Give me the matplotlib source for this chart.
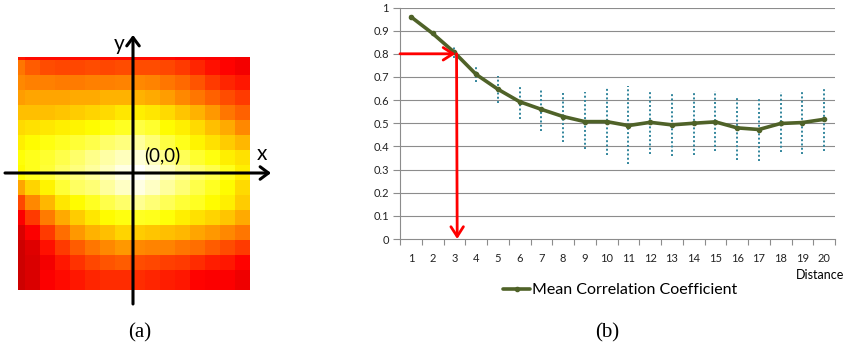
import numpy as np
import matplotlib
matplotlib.use('Agg')
import matplotlib.pyplot as plt

# ---- panel (a): correlation map, top row first, values on the 'hot' scale
heat = [
    [0.40, 0.38, 0.38, 0.38, 0.38, 0.38, 0.38, 0.38, 0.38, 0.38, 0.38, 0.37, 0.37, 0.36, 0.36, 0.35],
    [0.54, 0.50, 0.48, 0.47, 0.47, 0.48, 0.47, 0.48, 0.48, 0.48, 0.47, 0.45, 0.42, 0.39, 0.37, 0.35],
    [0.57, 0.555, 0.555, 0.55, 0.55, 0.555, 0.555, 0.56, 0.57, 0.56, 0.54, 0.52, 0.49, 0.45, 0.42, 0.40],
    [0.60, 0.61, 0.61, 0.61, 0.62, 0.62, 0.63, 0.63, 0.63, 0.62, 0.60, 0.57, 0.54, 0.51, 0.48, 0.45],
    [0.65, 0.65, 0.65, 0.66, 0.67, 0.68, 0.69, 0.71, 0.72, 0.71, 0.69, 0.66, 0.63, 0.59, 0.54, 0.51],
    [0.69, 0.70, 0.71, 0.72, 0.73, 0.74, 0.76, 0.78, 0.81, 0.79, 0.74, 0.72, 0.69, 0.65, 0.62, 0.57],
    [0.72, 0.74, 0.76, 0.78, 0.80, 0.82, 0.85, 0.87, 0.90, 0.86, 0.81, 0.77, 0.73, 0.70, 0.67, 0.64],
    [0.75, 0.77, 0.79, 0.82, 0.85, 0.88, 0.91, 0.93, 0.96, 0.93, 0.88, 0.83, 0.79, 0.76, 0.72, 0.70],
    [0.74, 0.77, 0.80, 0.84, 0.87, 0.90, 0.93, 0.97, 1.00, 0.97, 0.93, 0.89, 0.85, 0.82, 0.77, 0.72],
    [0.61, 0.68, 0.73, 0.80, 0.84, 0.86, 0.90, 0.94, 0.97, 0.94, 0.90, 0.86, 0.82, 0.78, 0.74, 0.69],
    [0.47, 0.57, 0.64, 0.71, 0.74, 0.78, 0.82, 0.85, 0.89, 0.86, 0.83, 0.80, 0.78, 0.74, 0.72, 0.67],
    [0.36, 0.45, 0.55, 0.62, 0.67, 0.71, 0.74, 0.76, 0.78, 0.77, 0.75, 0.72, 0.70, 0.68, 0.66, 0.62],
    [0.31, 0.36, 0.45, 0.53, 0.59, 0.63, 0.65, 0.68, 0.67, 0.66, 0.65, 0.64, 0.61, 0.59, 0.57, 0.54],
    [0.29, 0.32, 0.39, 0.45, 0.50, 0.54, 0.57, 0.59, 0.57, 0.56, 0.56, 0.54, 0.53, 0.50, 0.48, 0.45],
    [0.29, 0.31, 0.35, 0.40, 0.44, 0.47, 0.49, 0.50, 0.48, 0.47, 0.46, 0.45, 0.43, 0.41, 0.40, 0.37],
    [0.29, 0.31, 0.36, 0.38, 0.40, 0.42, 0.43, 0.43, 0.43, 0.42, 0.41, 0.40, 0.37, 0.36, 0.36, 0.34],
]

# ---- panel (b): mean correlation vs distance, with spread bars
distance = list(range(1, 21))
mean_corr = [0.96, 0.888, 0.806, 0.711, 0.647, 0.593, 0.56, 0.529, 0.507, 0.507,
             0.49, 0.504, 0.493, 0.50, 0.506, 0.48, 0.473, 0.499, 0.503, 0.517]
corr_low = [np.nan, 0.877, 0.78, 0.68, 0.587, 0.517, 0.468, 0.421, 0.39, 0.362,
            0.323, 0.366, 0.358, 0.362, 0.378, 0.342, 0.338, 0.374, 0.366, 0.378]
corr_high = [np.nan, 0.90, 0.83, 0.752, 0.704, 0.66, 0.647, 0.635, 0.634, 0.652,
             0.661, 0.644, 0.635, 0.639, 0.639, 0.618, 0.613, 0.635, 0.644, 0.652]
y_ticks = [0, 0.1, 0.2, 0.3, 0.4, 0.5, 0.6, 0.7, 0.8, 0.9, 1]
y_labels = ['0', '0.1', '0.2', '0.3', '0.4', '0.5', '0.6', '0.7', '0.8', '0.9', '1']
picked_corr = 0.8
picked_dist = 3.1

W, H = 850, 354
fig = plt.figure(figsize=(W / 100, H / 100), dpi=100)
sans = ['Lato', 'DejaVu Sans']
serif = ['Liberation Serif', 'DejaVu Serif']

# left panel in pixel coordinates
ax0 = fig.add_axes([0, 0, 300 / W, 1])
ax0.set_xlim(0, 300)
ax0.set_ylim(H, 0)
ax0.axis('off')
x_edges = [18] + list(range(25, 251, 15))
y_edges = [57] + list(range(60, 271, 15)) + [290]
ax0.pcolormesh(x_edges, y_edges, np.array(heat), cmap='hot', vmin=0, vmax=1, shading='flat')
arrow = dict(arrowstyle='->,head_length=0.6,head_width=0.45', lw=2.2, color='black',
             shrinkA=0, shrinkB=0)
ax0.annotate('', xy=(133, 35), xytext=(133, 304), arrowprops=arrow)
ax0.annotate('', xy=(271, 173), xytext=(5, 173), arrowprops=arrow)
ax0.text(119, 44, 'y', fontsize=15, family=sans, ha='center', va='center')
ax0.text(262, 154, 'x', fontsize=15, family=sans, ha='center', va='center')
ax0.text(162, 155, '(0,0)', fontsize=13.5, family=sans, ha='center', va='center')
ax0.text(140, 333, '(a)', fontsize=15, family=serif, ha='center', va='center')

# right panel
ax = fig.add_axes([400 / W, 1 - 239 / H, 435 / W, (239 - 7.5) / H])
grid_c = '#8c8c8c'
ax.set_xlim(0.5, 20.5)
ax.set_ylim(0, 1)
for yv in y_ticks[1:]:
    ax.axhline(yv, color=grid_c, lw=0.8, zorder=0)
for s in ['top', 'right']:
    ax.spines[s].set_visible(False)
for s in ['left', 'bottom']:
    ax.spines[s].set_color(grid_c)
    ax.spines[s].set_linewidth(0.8)

ax.vlines(distance, corr_low, corr_high, colors='#31859C', linestyles=(0, (1, 1.2)),
          lw=1.4, zorder=2)
ax.plot(distance, mean_corr, color='#4F6228', lw=2.6, marker='o', ms=3,
        solid_capstyle='round', zorder=3, label='Mean Correlation Coefficient')

red = dict(arrowstyle='->,head_length=0.7,head_width=0.45', lw=2.0, color='#ff0000',
           shrinkA=0, shrinkB=0)
ax.annotate('', xy=(picked_dist - 0.05, picked_corr), xytext=(0.5, picked_corr),
            arrowprops=red, zorder=4)
ax.annotate('', xy=(picked_dist + 0.03, 0.0), xytext=(picked_dist, picked_corr),
            arrowprops=red, zorder=4)

ax.set_yticks(y_ticks)
ax.set_yticklabels(y_labels)
ax.set_xticks(distance)
ax.set_xticks(np.arange(0.5, 21, 1), minor=True)
ax.tick_params(axis='y', length=5, width=0.8, color=grid_c, pad=3, labelsize=8)
ax.tick_params(axis='x', which='major', length=0, pad=10, labelsize=8)
ax.tick_params(axis='x', which='minor', length=4, width=0.8, color=grid_c)
for lab in ax.get_xticklabels() + ax.get_yticklabels():
    lab.set_family(sans)
    lab.set_color('#222222')

fig.text(844 / W, 1 - 275 / H, 'Distance', fontsize=9, family=sans, ha='right', va='center')
ax.legend(loc='center', bbox_to_anchor=(620 / W, 1 - 290 / H), bbox_transform=fig.transFigure,
          frameon=False, handlelength=1.7, handletextpad=0.1, prop={'family': sans, 'size': 11.5})
fig.text(607 / W, 1 - 333 / H, '(b)', fontsize=15, family=serif, ha='center', va='center')

fig.savefig('out.png', dpi=100)
